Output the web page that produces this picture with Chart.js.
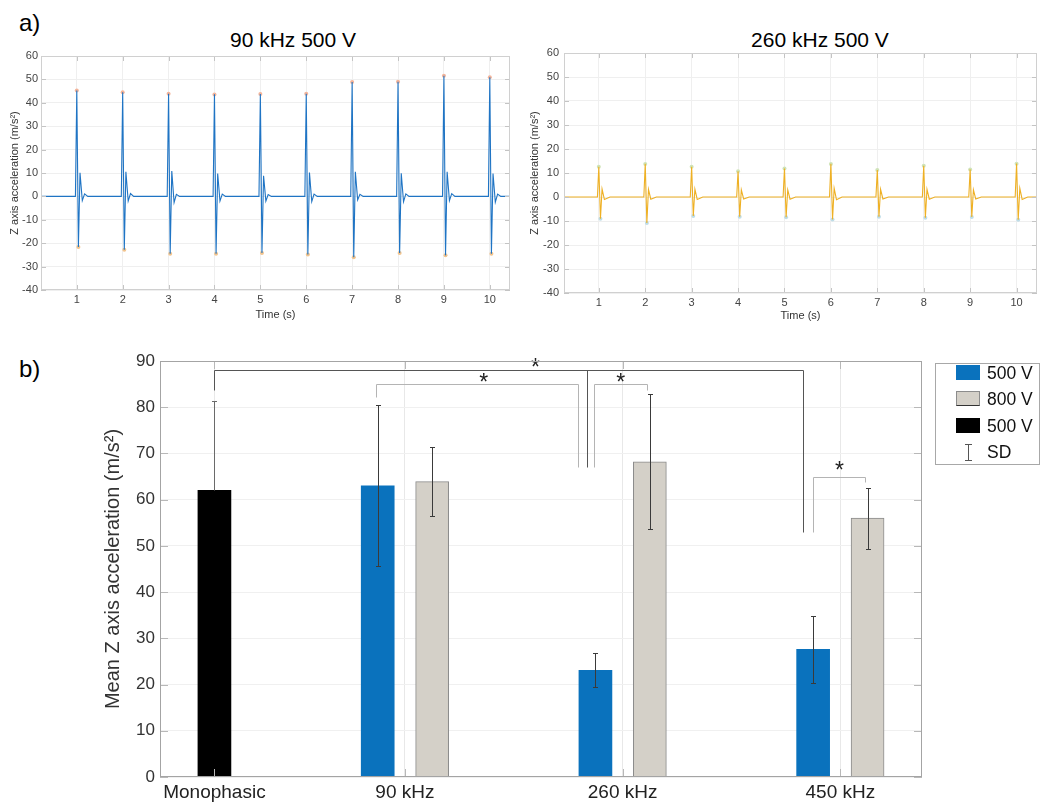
<!DOCTYPE html>
<html>
<head>
<meta charset="utf-8">
<script src="https://cdn.jsdelivr.net/npm/chart.js@4.4.1/dist/chart.umd.min.js"></script>
<style>
  html, body { margin: 0; padding: 0; background: #fff; }
  body { width: 1041px; height: 803px; position: relative; overflow: hidden;
         font-family: "Liberation Sans", Arial, sans-serif; }
  canvas { position: absolute; }
  .panel { position: absolute; font-size: 24px; line-height: 24px; color: #000; }
  .ttl { position: absolute; width: 200px; text-align: center; font-size: 21px; line-height: 24px; color: #000; }
  #legend { position: absolute; left: 935px; top: 363px; width: 103px; height: 100px;
            border: 1px solid #a8a8a8; background: #fff; }
  #legend .row { position: absolute; left: 0; height: 26px; line-height: 26px; font-size: 17.5px; color: #111; }
  #legend .sw { position: absolute; left: 20px; top: 5px; width: 24px; height: 15px; box-sizing: border-box; }
  #legend .tx { position: absolute; left: 51px; white-space: nowrap; }
</style>
</head>
<body>
<div class="panel" style="left:19px; top:11px;">a)</div>
<div class="panel" style="left:19px; top:357px;">b)</div>
<div class="ttl" style="left:193px; top:28px;">90 kHz 500 V</div>
<div class="ttl" style="left:720px; top:28px;">260 kHz 500 V</div>

<canvas id="c90" width="520" height="325" style="left:0; top:0;"></canvas>
<canvas id="c260" width="521" height="325" style="left:520px; top:0;"></canvas>
<canvas id="cbar" width="1041" height="468" style="left:0; top:335px;"></canvas>

<div id="legend">
  <div class="row" style="top:-4px;"><span class="sw" style="background:#0a72bd;"></span><span class="tx">500 V</span></div>
  <div class="row" style="top:22px;"><span class="sw" style="background:#d4d0c8; border:1px solid #8c8c8c; border-bottom-color:#333;"></span><span class="tx">800 V</span></div>
  <div class="row" style="top:49px;"><span class="sw" style="background:#000;"></span><span class="tx">500 V</span></div>
  <div class="row" style="top:75px;">
    <svg style="position:absolute; left:28px; top:5px;" width="9" height="17"><path d="M1 0.5H8M4.5 0.5V16.5M1 16.5H8" stroke="#555" stroke-width="1" fill="none"/></svg>
    <span class="tx">SD</span>
  </div>
</div>

<script>
// ---- a) time traces ----
const timeTicks = [1, 2, 3, 4, 5, 6, 7, 8, 9, 10];
const accTicks = [-40, -30, -20, -10, 0, 10, 20, 30, 40, 50, 60];
const pulseTimes = [1, 2, 3, 4, 5, 6, 7, 8, 9, 10];

// 90 kHz 500 V
const peak90 = [45.3, 44.5, 43.9, 43.6, 43.8, 43.9, 48.9, 49.0, 51.6, 50.9];
const trough90 = [-21.6, -22.8, -24.5, -24.5, -24.2, -24.8, -26.0, -24.2, -25.2, -24.5];
const rebound90 = [10.1, 10.5, 10.8, 9.8, 8.8, 10.2, 10.5, 9.9, 10.5, 9.8];
const dip90 = [-1.8, -2.0, -2.6, -2.0, -2.0, -2.2, -1.5, -2.3, -1.8, -2.5];
const bump90 = [1.1, 1.2, 0.9, 1.0, 0.8, 1.0, 0.9, 1.1, 1.2, 1.0];

// 260 kHz 500 V
const peak260 = [12.6, 13.8, 12.6, 10.7, 11.9, 13.8, 11.2, 13.0, 11.5, 13.9];
const trough260 = [-9.1, -10.8, -7.9, -8.2, -8.4, -9.4, -8.2, -8.6, -8.3, -9.5];
const rebound260 = [3.3, 3.2, 3.3, 3.0, 3.0, 3.6, 3.2, 3.2, 3.0, 3.6];
const dip260 = [-1.0, -0.9, -1.0, -0.8, -0.9, -1.1, -0.8, -0.9, -0.8, -1.0];

// ---- b) mean Z axis acceleration ----
const categories = ['Monophasic', '90 kHz', '260 kHz', '450 kHz'];
const mean500 = [null, 63.0, 23.1, 27.6];
const sd500 = [null, 17.4, 3.7, 7.2];
const mean800 = [null, 63.9, 68.2, 56.0];
const sd800 = [null, 7.4, 14.6, 6.6];
const meanMono = [62.0, null, null, null];
const sdMono = [19.3, null, null, null];
const barTicks = [0, 10, 20, 30, 40, 50, 60, 70, 80, 90];

// layout of the bar groups on the x axis (units)
const groupX = [2, 9, 17, 25];

// significance brackets [x, y] in axis units
const brackets = [
  { pts: [[2, 83.7], [2, 88], [23.62, 88], [23.62, 53.1]], color: '#555' },
  { pts: [[15.68, 88], [15.68, 67.1]], color: '#555' },
  { pts: [[7.94, 82.3], [7.94, 85], [15.37, 85], [15.37, 67.1]], color: '#b4b4b4' },
  { pts: [[15.96, 67.1], [15.96, 85], [17.91, 85], [17.91, 83.7]], color: '#b4b4b4' },
  { pts: [[23.98, 53.1], [23.98, 65], [25.92, 65], [25.92, 63.9]], color: '#b4b4b4' }
];
const stars = [[13.8, 89.4], [11.9, 86.2], [16.93, 86.2], [24.97, 67.2]];

const FONT = '"Liberation Sans", Arial, sans-serif';

function pulseTrace(peaks, troughs, rebounds, dips, bumps) {
  const pts = [{ x: 0.2, y: 0 }];
  pulseTimes.forEach((t, i) => {
    pts.push({ x: t - 0.03, y: 0 });
    pts.push({ x: t, y: peaks[i] });
    pts.push({ x: t + 0.035, y: troughs[i] });
    pts.push({ x: t + 0.07, y: rebounds[i] });
    pts.push({ x: t + 0.12, y: dips[i] });
    if (bumps) pts.push({ x: t + 0.17, y: bumps[i] });
    pts.push({ x: t + 0.24, y: 0 });
  });
  pts.push({ x: 10.45, y: 0 });
  return pts;
}

function extremes(peaks, troughs) {
  const pk = pulseTimes.map((t, i) => ({ x: t, y: peaks[i] }));
  const tr = pulseTimes.map((t, i) => ({ x: t + 0.035, y: troughs[i] }));
  return { pk, tr };
}

// frame + inward tick marks (matlab look)
const framePlugin = {
  id: 'frame',
  afterDraw(chart, args, opts) {
    const { ctx, chartArea: a, scales } = chart;
    const len = opts.tickLen || 5;
    ctx.save();
    ctx.lineWidth = 1;
    ctx.strokeStyle = opts.tickColor || '#bbb';
    ctx.beginPath();
    scales.y.ticks.forEach(t => {
      const py = Math.round(scales.y.getPixelForValue(t.value)) + 0.5;
      ctx.moveTo(a.left, py); ctx.lineTo(a.left + len, py);
      ctx.moveTo(a.right - len, py); ctx.lineTo(a.right, py);
    });
    scales.x.ticks.forEach(t => {
      const px = Math.round(scales.x.getPixelForValue(t.value)) + 0.5;
      ctx.moveTo(px, a.bottom); ctx.lineTo(px, a.bottom - len);
      ctx.moveTo(px, a.top); ctx.lineTo(px, a.top + len);
    });
    ctx.stroke();
    ctx.strokeStyle = opts.color || '#ccc';
    ctx.strokeRect(Math.round(a.left) + 0.5, Math.round(a.top) + 0.5,
      Math.round(a.right - a.left) - 1, Math.round(a.bottom - a.top) - 1);
    ctx.restore();
  }
};

function traceChart(id, trace, marks, lineColor, pkColor, trColor, geo) {
  return new Chart(document.getElementById(id), {
    type: 'line',
    data: {
      datasets: [
        { data: trace, borderColor: lineColor, borderWidth: 1.1, pointRadius: 0, tension: 0 },
        { data: marks.pk, showLine: false, pointRadius: 2, pointBackgroundColor: pkColor,
          pointBorderColor: pkColor, borderWidth: 0 },
        { data: marks.tr, showLine: false, pointRadius: 2, pointBackgroundColor: trColor,
          pointBorderColor: trColor, borderWidth: 0 }
      ]
    },
    options: {
      responsive: false, animation: false, devicePixelRatio: 1,
      layout: { padding: { top: geo.top, right: geo.right, left: 0, bottom: 0 } },
      plugins: { legend: { display: false }, tooltip: { enabled: false },
                 frame: { color: '#d0d0d0', tickColor: '#c4c4c4', tickLen: 5 } },
      scales: {
        x: {
          type: 'linear', min: geo.xmin, max: 10.44,
          afterBuildTicks: s => { s.ticks = timeTicks.map(v => ({ value: v })); },
          afterFit: s => { s.height = geo.xh; },
          grid: { color: '#efefef', drawTicks: false },
          border: { display: false },
          ticks: { font: { size: 11, family: FONT }, color: '#444', padding: 3 },
          title: { display: true, text: 'Time (s)', font: { size: 11, family: FONT }, color: '#333',
                   padding: { top: 0, bottom: geo.tpad } }
        },
        y: {
          min: -40, max: 60,
          afterBuildTicks: s => { s.ticks = accTicks.map(v => ({ value: v })); },
          afterFit: s => { s.width = geo.yw; },
          grid: { color: '#efefef', drawTicks: false },
          border: { display: false },
          ticks: { font: { size: 11, family: FONT }, color: '#444', padding: geo.ypad },
          title: { display: true, text: 'Z axis acceleration (m/s²)', font: { size: 11, family: FONT },
                   color: '#333', padding: { top: 8, bottom: 0 } }
        }
      }
    },
    plugins: [framePlugin]
  });
}

traceChart('c90', pulseTrace(peak90, trough90, rebound90, dip90, bump90), extremes(peak90, trough90),
  '#1f74c4', '#f3b49a', '#f2c48e', { top: 56, right: 10, xh: 35, yw: 41, ypad: 3, tpad: 3, xmin: 0.22 });
traceChart('c260', pulseTrace(peak260, trough260, rebound260, dip260), extremes(peak260, trough260),
  '#eeb024', '#cfe3b8', '#bfdde8', { top: 53, right: 2, xh: 32, yw: 44, ypad: 5, tpad: 2, xmin: 0.25 });

// ---- bar chart ----
function barData(means, sds, offset) {
  const out = [];
  means.forEach((m, i) => {
    if (m !== null) out.push({ x: groupX[i] + offset, y: m, sd: sds[i] });
  });
  return out;
}

const errorBarPlugin = {
  id: 'errorBars',
  afterDatasetsDraw(chart) {
    const { ctx, scales: { y } } = chart;
    ctx.save();
    ctx.lineWidth = 1;
    chart.data.datasets.forEach((ds, di) => {
      ctx.strokeStyle = ds.errorColor || '#3a3a3a';
      chart.getDatasetMeta(di).data.forEach((bar, j) => {
        const p = ds.data[j];
        const x = Math.round(bar.x) + 0.5;
        const mid = Math.round(y.getPixelForValue(p.y)) + 0.5;
        const top = Math.round(y.getPixelForValue(p.y + p.sd)) + 0.5;
        const bot = Math.round(y.getPixelForValue(p.y - p.sd)) + 0.5;
        ctx.beginPath();
        ctx.moveTo(x - 2.5, top); ctx.lineTo(x + 2.5, top);
        if (ds.errorBelow === false) {
          ctx.moveTo(x, top); ctx.lineTo(x, mid);
        } else {
          ctx.moveTo(x, top); ctx.lineTo(x, bot);
          ctx.moveTo(x - 2.5, bot); ctx.lineTo(x + 2.5, bot);
        }
        ctx.stroke();
      });
    });
    ctx.restore();
  }
};

const bracketPlugin = {
  id: 'brackets',
  afterDatasetsDraw(chart) {
    const { ctx, scales: { x, y } } = chart;
    ctx.save();
    ctx.lineWidth = 1;
    brackets.forEach(b => {
      ctx.strokeStyle = b.color;
      ctx.beginPath();
      b.pts.forEach(([u, v], k) => {
        const px = Math.round(x.getPixelForValue(u)) + 0.5;
        const py = Math.round(y.getPixelForValue(v)) + 0.5;
        if (k === 0) ctx.moveTo(px, py); else ctx.lineTo(px, py);
      });
      ctx.stroke();
    });
    ctx.fillStyle = '#222';
    ctx.font = '23px ' + FONT;
    ctx.textAlign = 'center';
    ctx.textBaseline = 'middle';
    stars.forEach(([u, v]) => {
      ctx.fillText('*', x.getPixelForValue(u), y.getPixelForValue(v) + 5);
    });
    ctx.restore();
  }
};

new Chart(document.getElementById('cbar'), {
  type: 'bar',
  data: {
    datasets: [
      { label: '500 V', data: barData(mean500, sd500, -1), backgroundColor: '#0a72bd', borderWidth: 0 },
      { label: '800 V', data: barData(mean800, sd800, 1), backgroundColor: '#d4d0c8',
        borderColor: '#8a8a8a', borderWidth: 1 },
      { label: '500 V', data: barData(meanMono, sdMono, 0), backgroundColor: '#000000', borderWidth: 0,
        errorColor: '#6a6a6a', errorBelow: false }
    ]
  },
  options: {
    responsive: false, animation: false, devicePixelRatio: 1,
    layout: { padding: { top: 26, right: 119, left: 0, bottom: 0 } },
    datasets: { bar: { grouped: false, barThickness: 33 } },
    plugins: { legend: { display: false }, tooltip: { enabled: false },
               frame: { color: '#a4a4a4', tickColor: '#b8b8b8', tickLen: 8 } },
    scales: {
      x: {
        type: 'linear', min: 0, max: 28, offset: false,
        afterBuildTicks: s => { s.ticks = groupX.map(v => ({ value: v })); },
        afterFit: s => { s.height = 26; },
        grid: { color: '#e8e8e8', drawTicks: false, offset: false },
        border: { display: false },
        ticks: { font: { size: 19, family: FONT }, color: '#222', padding: 4, maxRotation: 0,
                 autoSkip: false, callback: (v, i) => categories[i] }
      },
      y: {
        min: 0, max: 90,
        afterBuildTicks: s => { s.ticks = barTicks.map(v => ({ value: v })); },
        afterFit: s => { s.width = 160; },
        grid: { color: '#f0f0f0', drawTicks: false },
        border: { display: false },
        ticks: { font: { size: 17, family: FONT }, color: '#333', padding: 5 },
        title: { display: true, text: 'Mean Z axis acceleration (m/s²)', font: { size: 20, family: FONT },
                 color: '#333', padding: { top: 101, bottom: 0 } }
      }
    }
  },
  plugins: [errorBarPlugin, bracketPlugin, framePlugin]
});
</script>
</body>
</html>
